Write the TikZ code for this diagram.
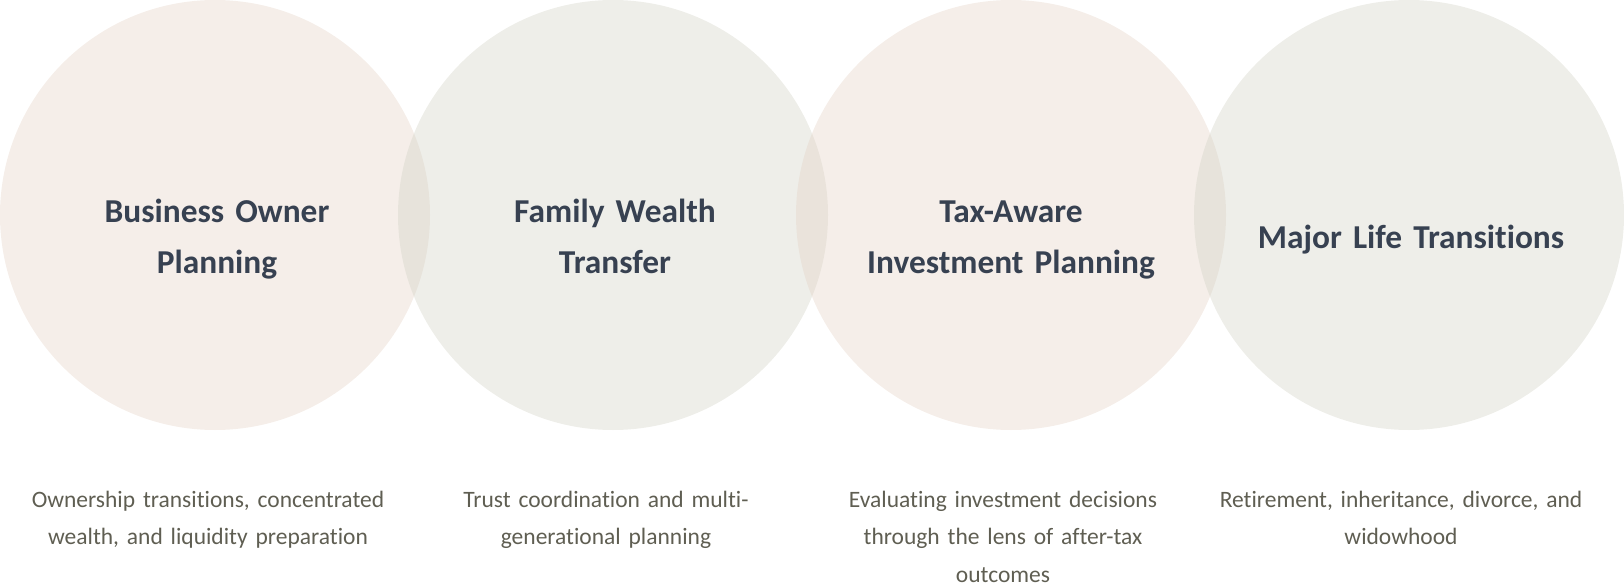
\documentclass[tikz,border=0pt]{standalone}
\usepackage{fontspec}
\setmainfont{Carlito}[Ligatures=NoCommon]
\usepackage{xcolor}
\usepackage{tikz}
\definecolor{blush}{RGB}{226,206,192}
\definecolor{sage}{RGB}{206,206,192}
\definecolor{slate}{HTML}{374151}
\definecolor{olive}{HTML}{5F5E52}
\tikzset{
  bubble/.style={circle, minimum size=430pt, inner sep=0pt, fill opacity=0.35},
  headline/.style={anchor=base, text width=440pt, align=center, inner sep=0pt,
    text=slate, font=\fontsize{33.4}{51}\selectfont\bfseries},
  blurb/.style={anchor=base, text width=420pt, align=center, inner sep=0pt,
    text=olive, font=\fontsize{23.5}{37.5}\selectfont}
}
\begin{document}
\begin{tikzpicture}[x=1pt,y=-1pt]
			\useasboundingbox (0,0) rectangle (1624,583);
			% Vẽ các vòng tròn
			\foreach \c [count=\i from 0] in {blush,sage,blush,sage}
			\node [bubble, fill=\c] (c\i) at (215+398*\i,215) {};
			% Tiêu đề
			\node [headline] (t0) at (217,222) {Business Owner\\Planning};
			\node [headline] (t1) at (615,222) {Family Wealth\\Transfer};
			\node [headline] (t2) at (1011,222) {Tax-Aware\\Investment Planning};
			\node [headline] (t3) at (1411,248) {Major Life Transitions};
			% Mô tả
			\node [blurb] (d0) at (208,507) {Ownership transitions, concentrated\\wealth, and liquidity preparation};
			\node [blurb] (d1) at (606,507) {Trust coordination and multi-\\generational planning};
			\node [blurb] (d2) at (1003,507) {Evaluating investment decisions\\through the lens of after-tax\\outcomes};
			\node [blurb] (d3) at (1401,507) {Retirement, inheritance, divorce, and\\widowhood};
		\end{tikzpicture}
\end{document}
